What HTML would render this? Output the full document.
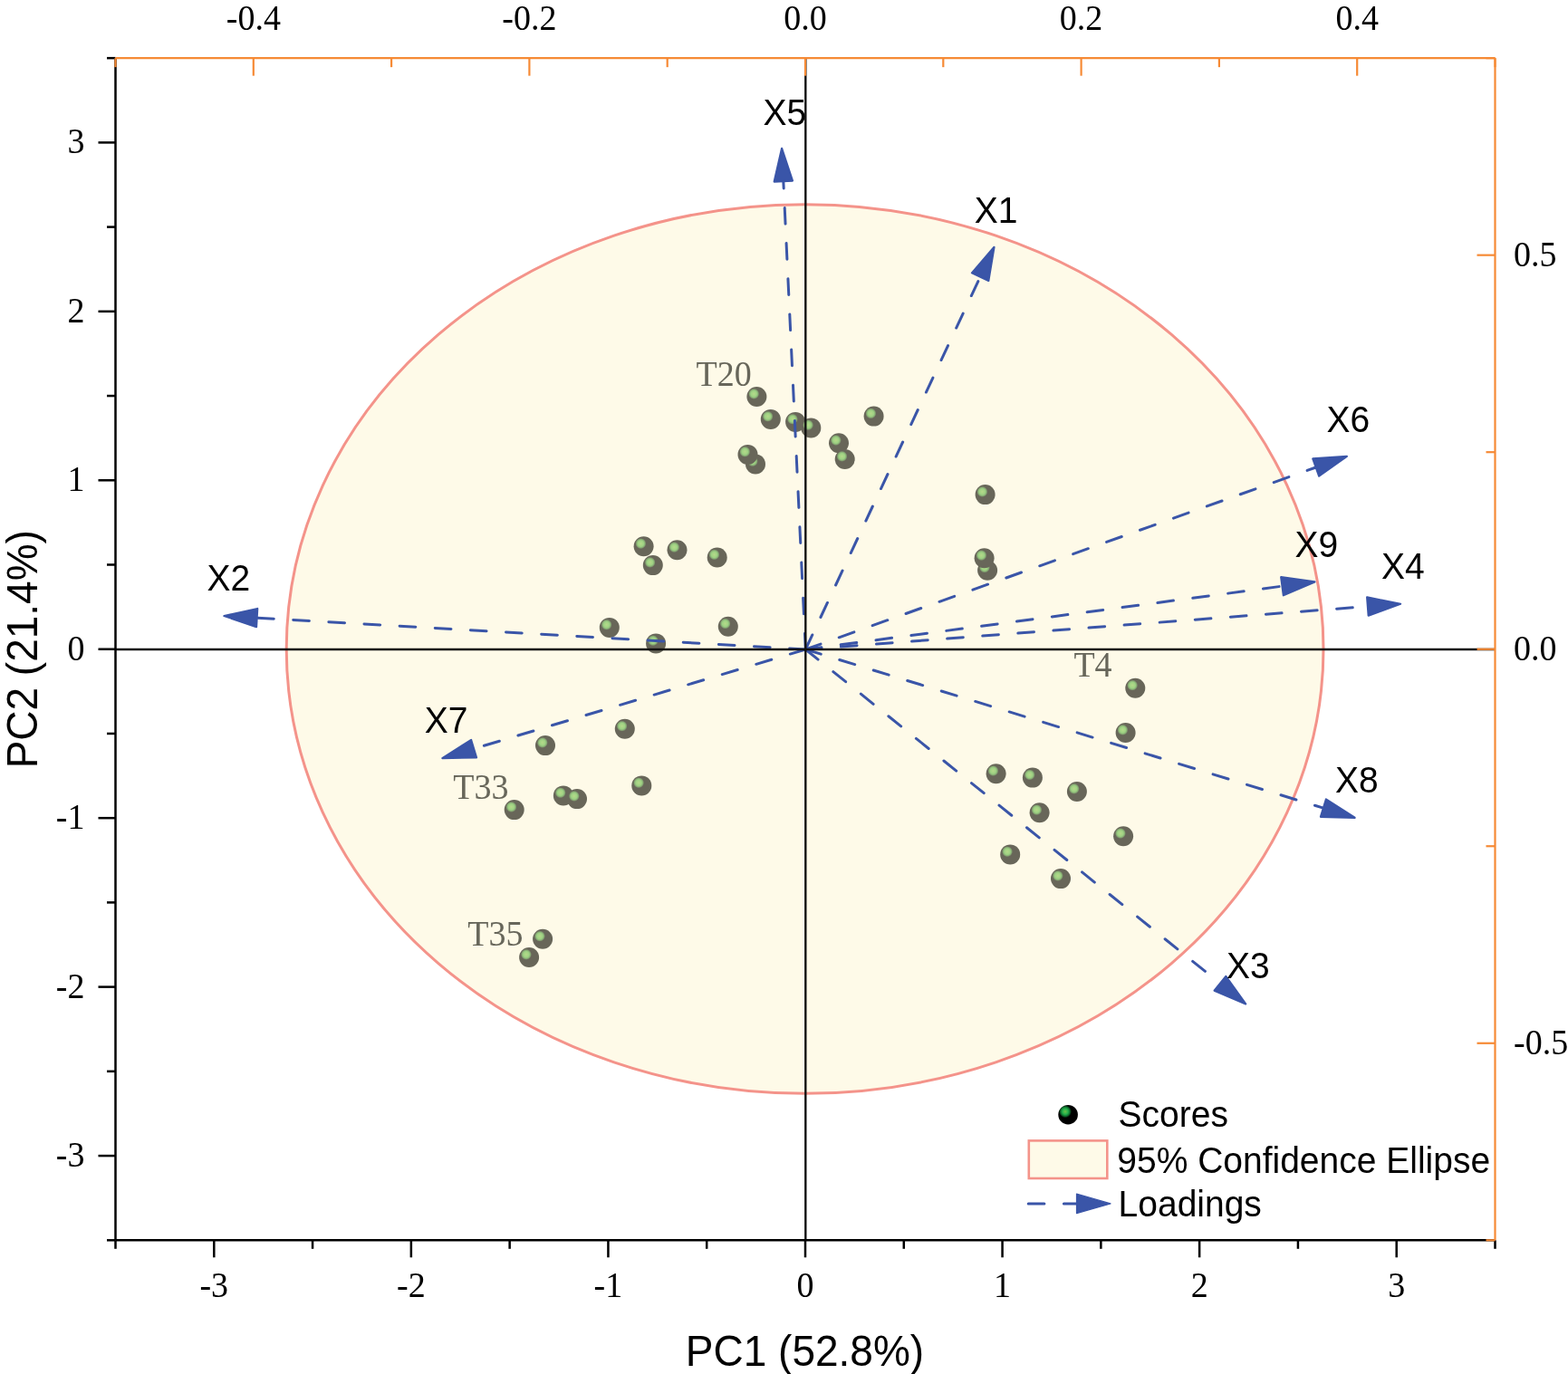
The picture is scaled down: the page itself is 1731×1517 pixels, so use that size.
<!DOCTYPE html><html><head><meta charset="utf-8"><title>PCA biplot</title>
<style>html,body{margin:0;padding:0;background:#fff;}svg{display:block;}</style></head><body>
<svg width="1731" height="1517" viewBox="0 0 1731 1517">
<defs>
<radialGradient id="bg" cx="0.355" cy="0.355" r="0.27" fx="0.355" fy="0.355"><stop offset="0" stop-color="#B6D98A"/><stop offset="0.55" stop-color="#9DD283"/><stop offset="0.8" stop-color="#86A873"/><stop offset="1" stop-color="#686659"/></radialGradient>
<radialGradient id="lg" cx="0.355" cy="0.34" r="0.32" fx="0.355" fy="0.34"><stop offset="0" stop-color="#6CBE48"/><stop offset="0.45" stop-color="#22B14C"/><stop offset="0.75" stop-color="#0E6B2C"/><stop offset="1" stop-color="#000"/></radialGradient>
</defs>
<rect x="0" y="0" width="1731" height="1517" fill="#fff"/>
<ellipse cx="888.6" cy="716.5" rx="572.4" ry="490.8" fill="#FEFAE8" stroke="#F4938A" stroke-width="3"/>
<circle cx="835.4" cy="438.0" r="11" fill="url(#bg)"/>
<circle cx="850.8" cy="462.9" r="11" fill="url(#bg)"/>
<circle cx="878.1" cy="465.9" r="11" fill="url(#bg)"/>
<circle cx="895.3" cy="472.4" r="11" fill="url(#bg)"/>
<circle cx="964.6" cy="459.6" r="11" fill="url(#bg)"/>
<circle cx="926.0" cy="489.2" r="11" fill="url(#bg)"/>
<circle cx="932.7" cy="507.0" r="11" fill="url(#bg)"/>
<circle cx="834.0" cy="512.4" r="11" fill="url(#bg)"/>
<circle cx="825.5" cy="501.9" r="11" fill="url(#bg)"/>
<circle cx="710.6" cy="603.3" r="11" fill="url(#bg)"/>
<circle cx="720.8" cy="624.1" r="11" fill="url(#bg)"/>
<circle cx="747.5" cy="607.3" r="11" fill="url(#bg)"/>
<circle cx="791.7" cy="615.5" r="11" fill="url(#bg)"/>
<circle cx="672.8" cy="692.9" r="11" fill="url(#bg)"/>
<circle cx="724.1" cy="710.4" r="11" fill="url(#bg)"/>
<circle cx="803.8" cy="691.7" r="11" fill="url(#bg)"/>
<circle cx="1087.6" cy="546.1" r="11" fill="url(#bg)"/>
<circle cx="1090.1" cy="629.7" r="11" fill="url(#bg)"/>
<circle cx="1086.6" cy="616.3" r="11" fill="url(#bg)"/>
<circle cx="1253.3" cy="759.8" r="11" fill="url(#bg)"/>
<circle cx="1242.6" cy="809.0" r="11" fill="url(#bg)"/>
<circle cx="1099.6" cy="854.2" r="11" fill="url(#bg)"/>
<circle cx="1139.9" cy="858.6" r="11" fill="url(#bg)"/>
<circle cx="1188.9" cy="874.0" r="11" fill="url(#bg)"/>
<circle cx="1147.6" cy="897.3" r="11" fill="url(#bg)"/>
<circle cx="1240.1" cy="923.2" r="11" fill="url(#bg)"/>
<circle cx="1115.2" cy="943.4" r="11" fill="url(#bg)"/>
<circle cx="1171.0" cy="970.1" r="11" fill="url(#bg)"/>
<circle cx="602.0" cy="823.1" r="11" fill="url(#bg)"/>
<circle cx="689.8" cy="804.8" r="11" fill="url(#bg)"/>
<circle cx="567.7" cy="894.1" r="11" fill="url(#bg)"/>
<circle cx="621.9" cy="878.4" r="11" fill="url(#bg)"/>
<circle cx="637.0" cy="882.1" r="11" fill="url(#bg)"/>
<circle cx="708.3" cy="867.4" r="11" fill="url(#bg)"/>
<circle cx="599.1" cy="1036.8" r="11" fill="url(#bg)"/>
<circle cx="584.1" cy="1057.0" r="11" fill="url(#bg)"/>
<text transform="translate(768.50 425.80) scale(1 1.045)" font-family="'Liberation Serif','Times New Roman',serif" font-size="38" fill="#67665A">T20</text>
<text transform="translate(1185.40 746.50) scale(1 1.045)" font-family="'Liberation Serif','Times New Roman',serif" font-size="38" fill="#67665A">T4</text>
<text transform="translate(500.20 881.60) scale(1 1.045)" font-family="'Liberation Serif','Times New Roman',serif" font-size="38" fill="#67665A">T33</text>
<text transform="translate(516.20 1043.80) scale(1 1.045)" font-family="'Liberation Serif','Times New Roman',serif" font-size="38" fill="#67665A">T35</text>
<line x1="889.30" y1="717.00" x2="864.82" y2="200.06" stroke="#3A55A8" stroke-width="3" stroke-dasharray="17.7 21.5" stroke-linecap="round"/>
<polygon points="863.10,163.80 874.96,199.58 854.68,200.54" fill="#3A55A8" stroke="#3A55A8" stroke-width="2.2" stroke-linejoin="round"/>
<line x1="889.30" y1="717.00" x2="1082.09" y2="305.67" stroke="#3A55A8" stroke-width="3" stroke-dasharray="17.7 21.5" stroke-linecap="round"/>
<polygon points="1097.50,272.80 1091.28,309.98 1072.90,301.36" fill="#3A55A8" stroke="#3A55A8" stroke-width="2.2" stroke-linejoin="round"/>
<line x1="889.30" y1="717.00" x2="1452.71" y2="516.00" stroke="#3A55A8" stroke-width="3" stroke-dasharray="17.7 21.5" stroke-linecap="round"/>
<polygon points="1486.90,503.80 1456.12,525.56 1449.30,506.44" fill="#3A55A8" stroke="#3A55A8" stroke-width="2.2" stroke-linejoin="round"/>
<line x1="889.30" y1="717.00" x2="1415.52" y2="647.17" stroke="#3A55A8" stroke-width="3" stroke-dasharray="17.7 21.5" stroke-linecap="round"/>
<polygon points="1451.50,642.40 1416.85,657.24 1414.18,637.11" fill="#3A55A8" stroke="#3A55A8" stroke-width="2.2" stroke-linejoin="round"/>
<line x1="889.30" y1="717.00" x2="1509.91" y2="669.57" stroke="#3A55A8" stroke-width="3" stroke-dasharray="17.7 21.5" stroke-linecap="round"/>
<polygon points="1546.10,666.80 1510.68,679.69 1509.13,659.45" fill="#3A55A8" stroke="#3A55A8" stroke-width="2.2" stroke-linejoin="round"/>
<line x1="889.30" y1="717.00" x2="283.64" y2="682.09" stroke="#3A55A8" stroke-width="3" stroke-dasharray="17.7 21.5" stroke-linecap="round"/>
<polygon points="247.40,680.00 284.22,671.96 283.06,692.22" fill="#3A55A8" stroke="#3A55A8" stroke-width="2.2" stroke-linejoin="round"/>
<line x1="889.30" y1="717.00" x2="523.07" y2="826.69" stroke="#3A55A8" stroke-width="3" stroke-dasharray="17.7 21.5" stroke-linecap="round"/>
<polygon points="488.30,837.10 520.16,816.96 525.99,836.41" fill="#3A55A8" stroke="#3A55A8" stroke-width="2.2" stroke-linejoin="round"/>
<line x1="889.30" y1="717.00" x2="1460.89" y2="892.16" stroke="#3A55A8" stroke-width="3" stroke-dasharray="17.7 21.5" stroke-linecap="round"/>
<polygon points="1495.60,902.80 1457.92,901.87 1463.87,882.46" fill="#3A55A8" stroke="#3A55A8" stroke-width="2.2" stroke-linejoin="round"/>
<line x1="889.30" y1="717.00" x2="1346.93" y2="1085.73" stroke="#3A55A8" stroke-width="3" stroke-dasharray="17.7 21.5" stroke-linecap="round"/>
<polygon points="1375.20,1108.50 1340.57,1093.63 1353.30,1077.82" fill="#3A55A8" stroke="#3A55A8" stroke-width="2.2" stroke-linejoin="round"/>
<line x1="127.5" y1="717.0" x2="1650.5" y2="717.0" stroke="#111" stroke-width="2.4"/>
<line x1="889.3" y1="64.15" x2="889.3" y2="1369.3" stroke="#111" stroke-width="2.4"/>
<text transform="translate(842.60 137.70) scale(1 1.045)" font-family="'Liberation Sans',Arial,sans-serif" font-size="39" fill="#000">X5</text>
<text transform="translate(1075.70 245.60) scale(1 1.045)" font-family="'Liberation Sans',Arial,sans-serif" font-size="39" fill="#000">X1</text>
<text transform="translate(1464.40 476.70) scale(1 1.045)" font-family="'Liberation Sans',Arial,sans-serif" font-size="39" fill="#000">X6</text>
<text transform="translate(1429.50 614.80) scale(1 1.045)" font-family="'Liberation Sans',Arial,sans-serif" font-size="39" fill="#000">X9</text>
<text transform="translate(1525.10 639.00) scale(1 1.045)" font-family="'Liberation Sans',Arial,sans-serif" font-size="39" fill="#000">X4</text>
<text transform="translate(228.50 651.90) scale(1 1.045)" font-family="'Liberation Sans',Arial,sans-serif" font-size="39" fill="#000">X2</text>
<text transform="translate(468.80 809.20) scale(1 1.045)" font-family="'Liberation Sans',Arial,sans-serif" font-size="39" fill="#000">X7</text>
<text transform="translate(1473.90 874.80) scale(1 1.045)" font-family="'Liberation Sans',Arial,sans-serif" font-size="39" fill="#000">X8</text>
<text transform="translate(1354.10 1079.70) scale(1 1.045)" font-family="'Liberation Sans',Arial,sans-serif" font-size="39" fill="#000">X3</text>
<line x1="127.5" y1="64.15" x2="127.5" y2="1369.3" stroke="#000" stroke-width="2.5"/>
<line x1="118.00" y1="1369.30" x2="127.5" y2="1369.30" stroke="#000" stroke-width="2.5"/>
<line x1="108.50" y1="1276.07" x2="127.5" y2="1276.07" stroke="#000" stroke-width="2.5"/>
<text transform="translate(93.50 1288.07) scale(1 1.045)" text-anchor="end" font-family="'Liberation Serif','Times New Roman',serif" font-size="38" fill="#000">-3</text>
<line x1="118.00" y1="1182.85" x2="127.5" y2="1182.85" stroke="#000" stroke-width="2.5"/>
<line x1="108.50" y1="1089.62" x2="127.5" y2="1089.62" stroke="#000" stroke-width="2.5"/>
<text transform="translate(93.50 1101.62) scale(1 1.045)" text-anchor="end" font-family="'Liberation Serif','Times New Roman',serif" font-size="38" fill="#000">-2</text>
<line x1="118.00" y1="996.40" x2="127.5" y2="996.40" stroke="#000" stroke-width="2.5"/>
<line x1="108.50" y1="903.17" x2="127.5" y2="903.17" stroke="#000" stroke-width="2.5"/>
<text transform="translate(93.50 915.17) scale(1 1.045)" text-anchor="end" font-family="'Liberation Serif','Times New Roman',serif" font-size="38" fill="#000">-1</text>
<line x1="118.00" y1="809.95" x2="127.5" y2="809.95" stroke="#000" stroke-width="2.5"/>
<line x1="108.50" y1="716.73" x2="127.5" y2="716.73" stroke="#000" stroke-width="2.5"/>
<text transform="translate(93.50 728.73) scale(1 1.045)" text-anchor="end" font-family="'Liberation Serif','Times New Roman',serif" font-size="38" fill="#000">0</text>
<line x1="118.00" y1="623.50" x2="127.5" y2="623.50" stroke="#000" stroke-width="2.5"/>
<line x1="108.50" y1="530.28" x2="127.5" y2="530.28" stroke="#000" stroke-width="2.5"/>
<text transform="translate(93.50 542.28) scale(1 1.045)" text-anchor="end" font-family="'Liberation Serif','Times New Roman',serif" font-size="38" fill="#000">1</text>
<line x1="118.00" y1="437.05" x2="127.5" y2="437.05" stroke="#000" stroke-width="2.5"/>
<line x1="108.50" y1="343.83" x2="127.5" y2="343.83" stroke="#000" stroke-width="2.5"/>
<text transform="translate(93.50 355.83) scale(1 1.045)" text-anchor="end" font-family="'Liberation Serif','Times New Roman',serif" font-size="38" fill="#000">2</text>
<line x1="118.00" y1="250.60" x2="127.5" y2="250.60" stroke="#000" stroke-width="2.5"/>
<line x1="108.50" y1="157.38" x2="127.5" y2="157.38" stroke="#000" stroke-width="2.5"/>
<text transform="translate(93.50 169.38) scale(1 1.045)" text-anchor="end" font-family="'Liberation Serif','Times New Roman',serif" font-size="38" fill="#000">3</text>
<line x1="118.00" y1="64.15" x2="127.5" y2="64.15" stroke="#000" stroke-width="2.5"/>
<line x1="127.5" y1="1369.3" x2="1650.5" y2="1369.3" stroke="#000" stroke-width="2.5"/>
<line x1="127.50" y1="1369.3" x2="127.50" y2="1378.80" stroke="#000" stroke-width="2.5"/>
<line x1="236.29" y1="1369.3" x2="236.29" y2="1388.30" stroke="#000" stroke-width="2.5"/>
<text transform="translate(236.29 1432.00) scale(1 1.045)" text-anchor="middle" font-family="'Liberation Serif','Times New Roman',serif" font-size="38" fill="#000">-3</text>
<line x1="345.07" y1="1369.3" x2="345.07" y2="1378.80" stroke="#000" stroke-width="2.5"/>
<line x1="453.86" y1="1369.3" x2="453.86" y2="1388.30" stroke="#000" stroke-width="2.5"/>
<text transform="translate(453.86 1432.00) scale(1 1.045)" text-anchor="middle" font-family="'Liberation Serif','Times New Roman',serif" font-size="38" fill="#000">-2</text>
<line x1="562.64" y1="1369.3" x2="562.64" y2="1378.80" stroke="#000" stroke-width="2.5"/>
<line x1="671.43" y1="1369.3" x2="671.43" y2="1388.30" stroke="#000" stroke-width="2.5"/>
<text transform="translate(671.43 1432.00) scale(1 1.045)" text-anchor="middle" font-family="'Liberation Serif','Times New Roman',serif" font-size="38" fill="#000">-1</text>
<line x1="780.21" y1="1369.3" x2="780.21" y2="1378.80" stroke="#000" stroke-width="2.5"/>
<line x1="889.00" y1="1369.3" x2="889.00" y2="1388.30" stroke="#000" stroke-width="2.5"/>
<text transform="translate(889.00 1432.00) scale(1 1.045)" text-anchor="middle" font-family="'Liberation Serif','Times New Roman',serif" font-size="38" fill="#000">0</text>
<line x1="997.79" y1="1369.3" x2="997.79" y2="1378.80" stroke="#000" stroke-width="2.5"/>
<line x1="1106.57" y1="1369.3" x2="1106.57" y2="1388.30" stroke="#000" stroke-width="2.5"/>
<text transform="translate(1106.57 1432.00) scale(1 1.045)" text-anchor="middle" font-family="'Liberation Serif','Times New Roman',serif" font-size="38" fill="#000">1</text>
<line x1="1215.36" y1="1369.3" x2="1215.36" y2="1378.80" stroke="#000" stroke-width="2.5"/>
<line x1="1324.14" y1="1369.3" x2="1324.14" y2="1388.30" stroke="#000" stroke-width="2.5"/>
<text transform="translate(1324.14 1432.00) scale(1 1.045)" text-anchor="middle" font-family="'Liberation Serif','Times New Roman',serif" font-size="38" fill="#000">2</text>
<line x1="1432.93" y1="1369.3" x2="1432.93" y2="1378.80" stroke="#000" stroke-width="2.5"/>
<line x1="1541.71" y1="1369.3" x2="1541.71" y2="1388.30" stroke="#000" stroke-width="2.5"/>
<text transform="translate(1541.71 1432.00) scale(1 1.045)" text-anchor="middle" font-family="'Liberation Serif','Times New Roman',serif" font-size="38" fill="#000">3</text>
<line x1="1650.50" y1="1369.3" x2="1650.50" y2="1378.80" stroke="#000" stroke-width="2.5"/>
<line x1="127.5" y1="64.15" x2="1650.5" y2="64.15" stroke="#F68A35" stroke-width="2.2"/>
<line x1="127.50" y1="64.15" x2="127.50" y2="74.15" stroke="#F68A35" stroke-width="2.2"/>
<line x1="279.80" y1="64.15" x2="279.80" y2="83.65" stroke="#F68A35" stroke-width="2.2"/>
<text transform="translate(279.80 33.00) scale(1 1.045)" text-anchor="middle" font-family="'Liberation Serif','Times New Roman',serif" font-size="38" fill="#000">-0.4</text>
<line x1="432.10" y1="64.15" x2="432.10" y2="74.15" stroke="#F68A35" stroke-width="2.2"/>
<line x1="584.40" y1="64.15" x2="584.40" y2="83.65" stroke="#F68A35" stroke-width="2.2"/>
<text transform="translate(584.40 33.00) scale(1 1.045)" text-anchor="middle" font-family="'Liberation Serif','Times New Roman',serif" font-size="38" fill="#000">-0.2</text>
<line x1="736.70" y1="64.15" x2="736.70" y2="74.15" stroke="#F68A35" stroke-width="2.2"/>
<line x1="889.00" y1="64.15" x2="889.00" y2="83.65" stroke="#F68A35" stroke-width="2.2"/>
<text transform="translate(889.00 33.00) scale(1 1.045)" text-anchor="middle" font-family="'Liberation Serif','Times New Roman',serif" font-size="38" fill="#000">0.0</text>
<line x1="1041.30" y1="64.15" x2="1041.30" y2="74.15" stroke="#F68A35" stroke-width="2.2"/>
<line x1="1193.60" y1="64.15" x2="1193.60" y2="83.65" stroke="#F68A35" stroke-width="2.2"/>
<text transform="translate(1193.60 33.00) scale(1 1.045)" text-anchor="middle" font-family="'Liberation Serif','Times New Roman',serif" font-size="38" fill="#000">0.2</text>
<line x1="1345.90" y1="64.15" x2="1345.90" y2="74.15" stroke="#F68A35" stroke-width="2.2"/>
<line x1="1498.20" y1="64.15" x2="1498.20" y2="83.65" stroke="#F68A35" stroke-width="2.2"/>
<text transform="translate(1498.20 33.00) scale(1 1.045)" text-anchor="middle" font-family="'Liberation Serif','Times New Roman',serif" font-size="38" fill="#000">0.4</text>
<line x1="1650.50" y1="64.15" x2="1650.50" y2="74.15" stroke="#F68A35" stroke-width="2.2"/>
<line x1="1650.5" y1="64.15" x2="1650.5" y2="1369.3" stroke="#F68A35" stroke-width="2.2"/>
<line x1="1640.50" y1="1369.30" x2="1650.5" y2="1369.30" stroke="#F68A35" stroke-width="2.2"/>
<line x1="1630.50" y1="1151.78" x2="1650.5" y2="1151.78" stroke="#F68A35" stroke-width="2.2"/>
<text transform="translate(1671.00 1164.08) scale(1 1.045)" font-family="'Liberation Serif','Times New Roman',serif" font-size="38" fill="#000">-0.5</text>
<line x1="1640.50" y1="934.25" x2="1650.5" y2="934.25" stroke="#F68A35" stroke-width="2.2"/>
<line x1="1630.50" y1="716.73" x2="1650.5" y2="716.73" stroke="#F68A35" stroke-width="2.2"/>
<text transform="translate(1671.00 729.02) scale(1 1.045)" font-family="'Liberation Serif','Times New Roman',serif" font-size="38" fill="#000">0.0</text>
<line x1="1640.50" y1="499.20" x2="1650.5" y2="499.20" stroke="#F68A35" stroke-width="2.2"/>
<line x1="1630.50" y1="281.68" x2="1650.5" y2="281.68" stroke="#F68A35" stroke-width="2.2"/>
<text transform="translate(1671.00 293.98) scale(1 1.045)" font-family="'Liberation Serif','Times New Roman',serif" font-size="38" fill="#000">0.5</text>
<line x1="1640.50" y1="64.15" x2="1650.5" y2="64.15" stroke="#F68A35" stroke-width="2.2"/>
<text transform="translate(888.50 1507.80) scale(1 1.045)" text-anchor="middle" font-family="'Liberation Sans',Arial,sans-serif" font-size="46" fill="#000">PC1 (52.8%)</text>
<text transform="translate(40.5 716.73) rotate(-90) scale(1 1.045)" x="0" y="0" text-anchor="middle" font-family="'Liberation Sans',Arial,sans-serif" font-size="46">PC2 (21.4%)</text>
<circle cx="1179.1" cy="1230.7" r="10.8" fill="url(#lg)"/>
<rect x="1135.8" y="1259.4" width="86.5" height="41.6" fill="#FEFAE8" stroke="#F4938A" stroke-width="2.6"/>
<line x1="1135.2" y1="1328.9" x2="1188" y2="1328.9" stroke="#3A55A8" stroke-width="3" stroke-dasharray="17.7 21.5" stroke-linecap="round"/>
<polygon points="1226,1328.9 1188.5,1318.2 1188.5,1339.6" fill="#3A55A8" stroke="#3A55A8" stroke-width="1.2" stroke-linejoin="round"/>
<text transform="translate(1234.60 1244.20) scale(1 1.045)" font-family="'Liberation Sans',Arial,sans-serif" font-size="39" fill="#000">Scores</text>
<text transform="translate(1233.30 1294.60) scale(1 1.045)" font-family="'Liberation Sans',Arial,sans-serif" font-size="39" fill="#000">95% Confidence Ellipse</text>
<text transform="translate(1234.60 1342.80) scale(1 1.045)" font-family="'Liberation Sans',Arial,sans-serif" font-size="39" fill="#000">Loadings</text>
</svg></body></html>
